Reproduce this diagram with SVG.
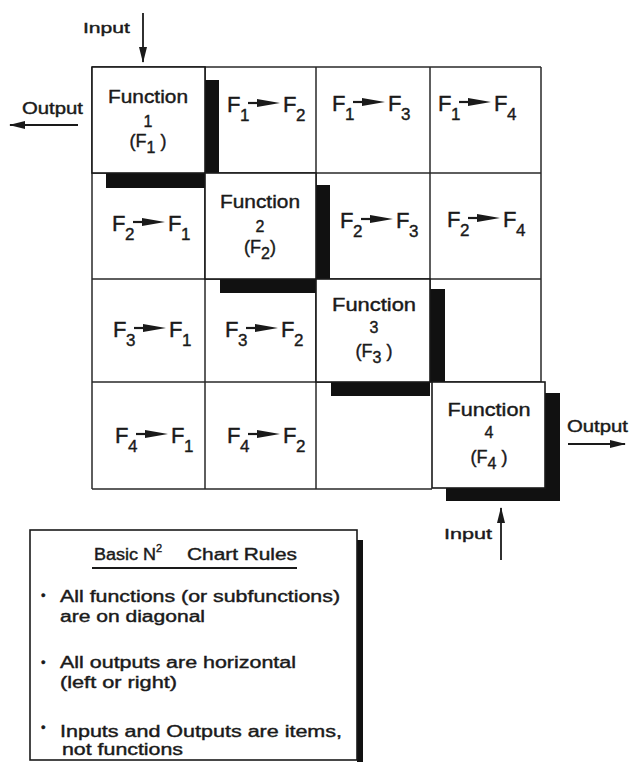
<svg xmlns="http://www.w3.org/2000/svg" width="631" height="762" viewBox="0 0 631 762">
<style>
.t{font-family:"Liberation Sans",Arial,Helvetica,sans-serif;fill:#1a1a1a;stroke:#1a1a1a;stroke-width:0.4}
.fn{font-size:18px;text-anchor:middle}
.num{font-size:16px;text-anchor:middle}
.f{font-size:22px}
.s{font-size:17px}
.g{stroke:#2a2a2a;stroke-width:1.5;fill:none}
.box{fill:#fff;stroke:#1a1a1a;stroke-width:1.6}
.sh{fill:#111}
.ln{stroke:#1a1a1a;stroke-width:2.2;fill:none}
.hd{fill:#1a1a1a}
.ar{stroke:#1a1a1a;stroke-width:1.8;fill:none}
.lg{font-size:16px}
.io{font-size:15px}
</style>
<defs>
<marker id="ah" viewBox="0 0 16 8" refX="15" refY="4" markerWidth="16" markerHeight="8" markerUnits="userSpaceOnUse" orient="auto">
<path d="M0,0 L16,4 L0,8 z" fill="#1a1a1a"/>
</marker>
<g id="flow">
<path class="ln" d="M21,-9 H32"/>
<polygon class="hd" points="30,-13 53,-9 30,-5"/>
</g>
</defs>
<rect width="631" height="762" fill="#fff"/>

<g id="grid">
<path class="g" d="M92,67 H541 M92,173 H541 M92,279 H541 M92,382 H541 M92,489 H432 M92,67 V489 M205,67 V489 M316,67 V489 M430,67 V382 M541,67 V382"/>
</g>

<g id="shadows">
<rect class="sh" x="205" y="80" width="14" height="93"/>
<rect class="sh" x="106" y="173" width="99" height="15"/>
<rect class="sh" x="316" y="185" width="14" height="94"/>
<rect class="sh" x="220" y="279" width="96" height="14"/>
<rect class="sh" x="430" y="289" width="15" height="93"/>
<rect class="sh" x="331" y="382" width="99" height="14"/>
<rect class="sh" x="545" y="393" width="15" height="108"/>
<rect class="sh" x="446" y="488" width="114" height="13"/>
</g>

<g id="F1">
<rect class="box" x="92" y="67" width="113" height="106"/>
<text class="t fn" x="148" y="103" textLength="80" lengthAdjust="spacingAndGlyphs">Function</text>
<text class="t num" x="148" y="127">1</text>
<text class="t fn" x="148" y="147">(F<tspan dy="6" font-size="16">1</tspan><tspan dy="-6"> )</tspan></text>
</g>
<g id="F2">
<rect class="box" x="205" y="173" width="111" height="106"/>
<text class="t fn" x="260" y="208" textLength="80" lengthAdjust="spacingAndGlyphs">Function</text>
<text class="t num" x="260" y="232">2</text>
<text class="t fn" x="260" y="253">(F<tspan dy="6" font-size="16">2</tspan><tspan dy="-6">)</tspan></text>
</g>
<g id="F3">
<rect class="box" x="316" y="279" width="114" height="103"/>
<text class="t fn" x="374" y="311" textLength="84" lengthAdjust="spacingAndGlyphs">Function</text>
<text class="t num" x="374" y="333">3</text>
<text class="t fn" x="374" y="357">(F<tspan dy="6" font-size="16">3</tspan><tspan dy="-6"> )</tspan></text>
</g>
<g id="F4">
<rect class="box" x="432" y="382" width="113" height="106"/>
<text class="t fn" x="489" y="416" textLength="83" lengthAdjust="spacingAndGlyphs">Function</text>
<text class="t num" x="489" y="438">4</text>
<text class="t fn" x="489" y="463">(F<tspan dy="6" font-size="16">4</tspan><tspan dy="-6"> )</tspan></text>
</g>

<g id="c12" transform="translate(227,112)"><text class="t f" x="0" y="0">F</text><text class="t s" x="13" y="9">1</text><use href="#flow"/><text class="t f" x="56" y="0">F</text><text class="t s" x="69" y="9">2</text></g>
<g id="c13" transform="translate(332,111)"><text class="t f" x="0" y="0">F</text><text class="t s" x="13" y="9">1</text><use href="#flow"/><text class="t f" x="56" y="0">F</text><text class="t s" x="69" y="9">3</text></g>
<g id="c14" transform="translate(438,111)"><text class="t f" x="0" y="0">F</text><text class="t s" x="13" y="9">1</text><use href="#flow"/><text class="t f" x="56" y="0">F</text><text class="t s" x="69" y="9">4</text></g>
<g id="c21" transform="translate(112,231)"><text class="t f" x="0" y="0">F</text><text class="t s" x="13" y="9">2</text><use href="#flow"/><text class="t f" x="56" y="0">F</text><text class="t s" x="69" y="9">1</text></g>
<g id="c23" transform="translate(340,228)"><text class="t f" x="0" y="0">F</text><text class="t s" x="13" y="9">2</text><use href="#flow"/><text class="t f" x="56" y="0">F</text><text class="t s" x="69" y="9">3</text></g>
<g id="c24" transform="translate(447,227)"><text class="t f" x="0" y="0">F</text><text class="t s" x="13" y="9">2</text><use href="#flow"/><text class="t f" x="56" y="0">F</text><text class="t s" x="69" y="9">4</text></g>
<g id="c31" transform="translate(113,337)"><text class="t f" x="0" y="0">F</text><text class="t s" x="13" y="9">3</text><use href="#flow"/><text class="t f" x="56" y="0">F</text><text class="t s" x="69" y="9">1</text></g>
<g id="c32" transform="translate(225,337)"><text class="t f" x="0" y="0">F</text><text class="t s" x="13" y="9">3</text><use href="#flow"/><text class="t f" x="56" y="0">F</text><text class="t s" x="69" y="9">2</text></g>
<g id="c41" transform="translate(115,443)"><text class="t f" x="0" y="0">F</text><text class="t s" x="13" y="9">4</text><use href="#flow"/><text class="t f" x="56" y="0">F</text><text class="t s" x="69" y="9">1</text></g>
<g id="c42" transform="translate(227,443)"><text class="t f" x="0" y="0">F</text><text class="t s" x="13" y="9">4</text><use href="#flow"/><text class="t f" x="56" y="0">F</text><text class="t s" x="69" y="9">2</text></g>

<g id="connectors">
<path class="ar" d="M143,13 V62" marker-end="url(#ah)"/>
<path class="ar" d="M78,125 H10" marker-end="url(#ah)"/>
<path class="ar" d="M568,444 H625" marker-end="url(#ah)"/>
<path class="ar" d="M501,560 V508" marker-end="url(#ah)"/>
</g>

<g id="io-labels">
<text class="t io" x="83" y="33" textLength="47" lengthAdjust="spacingAndGlyphs">Input</text>
<text class="t io" x="22" y="114" style="font-size:16px" textLength="61" lengthAdjust="spacingAndGlyphs">Output</text>
<text class="t io" x="567" y="432" style="font-size:16px" textLength="61" lengthAdjust="spacingAndGlyphs">Output</text>
<text class="t io" x="444" y="539" textLength="48" lengthAdjust="spacingAndGlyphs">Input</text>
</g>

<g id="legend">
<rect class="sh" x="357" y="540" width="6" height="222"/>
<rect class="box" x="30" y="530" width="327" height="230"/>
<text class="t lg" x="94" y="560" textLength="62" lengthAdjust="spacingAndGlyphs">Basic N</text>
<text class="t" x="156" y="552" style="font-size:11px">2</text>
<text class="t lg" x="187" y="560" textLength="110" lengthAdjust="spacingAndGlyphs">Chart Rules</text>
<path d="M92,568 H297" stroke="#1a1a1a" stroke-width="2"/>
<text class="t" x="41" y="600" style="font-size:13px">•</text>
<text class="t lg" x="60" y="602" textLength="280" lengthAdjust="spacingAndGlyphs">All functions (or subfunctions)</text>
<text class="t lg" x="60" y="622" textLength="145" lengthAdjust="spacingAndGlyphs">are on diagonal</text>
<text class="t" x="41" y="667" style="font-size:13px">•</text>
<text class="t lg" x="60" y="668" textLength="236" lengthAdjust="spacingAndGlyphs">All outputs are horizontal</text>
<text class="t lg" x="60" y="688" textLength="117" lengthAdjust="spacingAndGlyphs">(left or right)</text>
<text class="t" x="41" y="732" style="font-size:13px">•</text>
<text class="t lg" x="60" y="737" textLength="282" lengthAdjust="spacingAndGlyphs">Inputs and Outputs are items,</text>
<text class="t lg" x="62" y="755" textLength="121" lengthAdjust="spacingAndGlyphs">not functions</text>
</g>
</svg>
